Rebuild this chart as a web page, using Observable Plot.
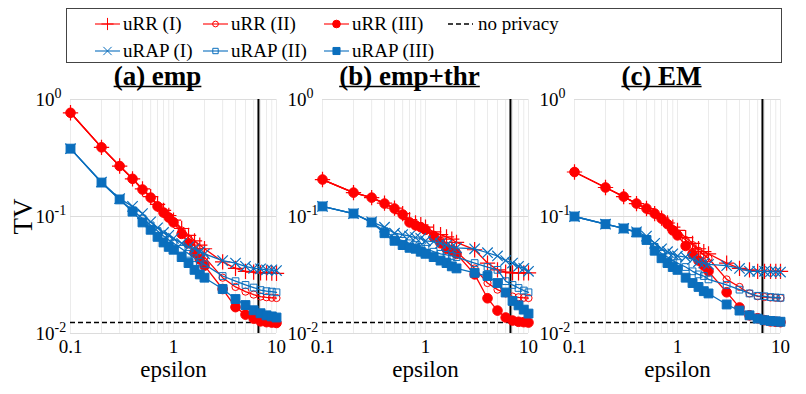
<!DOCTYPE html>
<html><head><meta charset="utf-8">
<script src="https://cdn.jsdelivr.net/npm/d3@7"></script>
<script src="https://cdn.jsdelivr.net/npm/@observablehq/plot@0.6"></script>
<style>
body{margin:0;background:#fff;}
#root{position:relative;width:806px;height:394px;font-family:"Liberation Serif","Times New Roman",serif;overflow:hidden;}
#root svg, #root text, #root tspan{font-family:"Liberation Serif","Times New Roman",serif !important;}
.panel{position:absolute;top:66px;}
.legend{position:absolute;top:0;left:0;}
</style></head><body><div id="root"></div>
<script>
// ---------- data ----------
const eps = [0.1,0.2,0.3,0.4,0.5,0.6,0.7,0.8,0.9,1.0,1.2,1.4,1.6,1.8,2,3,4,5,6,7,8,9,10];
const seriesNames = ["uRR (I)","uRR (II)","uRR (III)","uRAP (I)","uRAP (II)","uRAP (III)"];
const panelTitles = ["(a) emp","(b) emp+thr","(c) EM"];
const noPrivacyLabel = "no privacy";
const noPrivacyTV = 0.0124;
const refEpsilon = 6.68;
const xTicks = [0.1,1,10];
const xTickLabels = ["0.1","1","10"];
const xGrid = [0.1,0.2,0.3,0.4,0.5,0.6,0.7,0.8,0.9,1,2,3,4,5,6,7,8,9,10];
const yTicks = [1,0.1,0.01];
const yTickBase = "10";
const yTickExponents = ["0","-1","-2"];

// (a) emp
const empRR1   = [0.77,0.39,0.27,0.21,0.172,0.148,0.127,0.113,0.102,0.093,0.079,0.069,0.062,0.057,0.053,0.041,0.036,0.034,0.0335,0.033,0.033,0.0328,0.0327];
const empRR2   = [0.77,0.39,0.27,0.21,0.17,0.146,0.124,0.11,0.1,0.091,0.076,0.065,0.056,0.05,0.045,0.030,0.025,0.0228,0.0215,0.0207,0.0204,0.0202,0.0201];
const empRR3   = [0.77,0.39,0.27,0.21,0.17,0.145,0.122,0.108,0.098,0.089,0.071,0.059,0.049,0.043,0.038,0.024,0.0168,0.0145,0.0134,0.0127,0.0125,0.0124,0.0123];
const empRAP1  = [0.38,0.197,0.142,0.122,0.106,0.09,0.08,0.073,0.069,0.065,0.059,0.055,0.053,0.05,0.048,0.042,0.04,0.0375,0.036,0.0357,0.035,0.035,0.0345];
const empRAP2  = [0.38,0.195,0.14,0.113,0.096,0.084,0.075,0.068,0.063,0.059,0.053,0.048,0.044,0.041,0.039,0.031,0.028,0.026,0.0247,0.0235,0.023,0.0228,0.0225];
const empRAP3  = [0.38,0.195,0.14,0.11,0.089,0.077,0.067,0.06,0.055,0.052,0.045,0.04,0.035,0.032,0.03,0.024,0.0197,0.0175,0.0158,0.0149,0.0143,0.014,0.0137];
// (b) emp+thr
const thrRR1   = [0.207,0.16,0.145,0.13,0.118,0.106,0.094,0.088,0.085,0.081,0.074,0.07,0.067,0.064,0.06,0.052,0.040,0.035,0.0335,0.033,0.033,0.033,0.033];
const thrRR2   = [0.207,0.16,0.145,0.129,0.117,0.104,0.09,0.085,0.081,0.078,0.07,0.062,0.056,0.053,0.05,0.036,0.027,0.0237,0.022,0.0207,0.0204,0.0202,0.0201];
const thrRR3   = [0.207,0.16,0.145,0.129,0.117,0.104,0.089,0.084,0.081,0.077,0.067,0.059,0.053,0.051,0.048,0.032,0.020,0.0157,0.0137,0.0129,0.0126,0.0125,0.0124];
const thrRAP1  = [0.122,0.106,0.09,0.081,0.072,0.07,0.068,0.066,0.065,0.062,0.061,0.059,0.057,0.055,0.054,0.053,0.049,0.046,0.042,0.04,0.0375,0.036,0.034];
const thrRAP2  = [0.122,0.106,0.089,0.075,0.066,0.062,0.059,0.057,0.055,0.053,0.05,0.048,0.047,0.046,0.045,0.040,0.037,0.035,0.028,0.026,0.0245,0.0233,0.0225];
const thrRAP3  = [0.122,0.106,0.089,0.072,0.062,0.057,0.054,0.053,0.05,0.048,0.045,0.042,0.04,0.0375,0.036,0.033,0.031,0.027,0.0224,0.019,0.0174,0.016,0.0148];
// (c) EM
const emRR1    = [0.24,0.177,0.148,0.129,0.117,0.106,0.097,0.088,0.081,0.076,0.066,0.059,0.053,0.05,0.048,0.04,0.036,0.035,0.034,0.034,0.034,0.034,0.034];
const emRR2    = [0.24,0.177,0.148,0.129,0.117,0.106,0.096,0.087,0.078,0.072,0.063,0.057,0.051,0.047,0.044,0.029,0.025,0.022,0.0208,0.0205,0.0203,0.0202,0.0201];
const emRR3    = [0.24,0.177,0.148,0.129,0.117,0.106,0.096,0.086,0.076,0.069,0.056,0.048,0.042,0.038,0.034,0.0225,0.0167,0.0143,0.0135,0.013,0.0127,0.0126,0.0125];
const emRAP1   = [0.1,0.086,0.079,0.074,0.068,0.059,0.053,0.05,0.048,0.046,0.045,0.043,0.041,0.04,0.039,0.038,0.036,0.034,0.034,0.034,0.0338,0.0336,0.0335];
const emRAP2   = [0.1,0.086,0.079,0.073,0.064,0.055,0.048,0.045,0.042,0.04,0.037,0.034,0.032,0.031,0.029,0.026,0.0237,0.022,0.021,0.0208,0.0205,0.0203,0.0202];
const emRAP3   = [0.1,0.086,0.079,0.073,0.063,0.051,0.044,0.04,0.037,0.035,0.03,0.027,0.025,0.023,0.022,0.0177,0.0157,0.0143,0.0134,0.013,0.0128,0.0127,0.0126];

const panelData = [
  [empRR1,empRR2,empRR3,empRAP1,empRAP2,empRAP3],
  [thrRR1,thrRR2,thrRR3,thrRAP1,thrRAP2,thrRAP3],
  [emRR1,emRR2,emRR3,emRAP1,emRAP2,emRAP3]
];

// ---------- styles ----------
const RED = "#ff0000", BLUE = "#0a6ebd";
const style = [
  {color:RED,  symbol:"plus",   r:5.0, filled:false, sw:1.2},
  {color:RED,  symbol:"circle", r:3.6, filled:false, sw:1},
  {color:RED,  symbol:"circle", r:4.8, filled:true,  sw:1},
  {color:BLUE, symbol:"times",  r:4.8, filled:false, sw:1.2},
  {color:BLUE, symbol:"square", r:3.8, filled:false, sw:1},
  {color:BLUE, symbol:"square", r:5.0, filled:true,  sw:1}
];
const FONT = '"Liberation Serif","Times New Roman",serif';
const root = document.getElementById("root");

// ---------- legend ----------
(function legend(){
  const svg = d3.select(root).append("svg").attr("class","legend")
    .attr("width",806).attr("height",66);
  svg.append("rect").attr("x",66.5).attr("y",8.5).attr("width",715).attr("height",54)
    .attr("fill","white").attr("stroke","#444").attr("stroke-width",1);
  const colX = [95,203,324,448];
  const rowY = [24,51];
  const entries = [
    {k:0,col:0,row:0},{k:1,col:1,row:0},{k:2,col:2,row:0},{k:-1,col:3,row:0},
    {k:3,col:0,row:1},{k:4,col:1,row:1},{k:5,col:2,row:1}
  ];
  const symMap = {plus:d3.symbolPlus, times:d3.symbolTimes, circle:d3.symbolCircle, square:d3.symbolSquare};
  for (const e of entries) {
    const x0 = colX[e.col], y = rowY[e.row];
    const g = svg.append("g");
    if (e.k < 0) {
      g.append("line").attr("x1",x0).attr("x2",x0+25).attr("y1",y).attr("y2",y)
        .attr("stroke","#000").attr("stroke-width",1.5).attr("stroke-dasharray","5,3");
      g.append("text").attr("x",x0+30).attr("y",y).attr("dy","0.32em")
        .attr("font-size",19).text(noPrivacyLabel);
      continue;
    }
    const s = style[e.k];
    g.append("line").attr("x1",x0).attr("x2",x0+25).attr("y1",y).attr("y2",y)
      .attr("stroke",s.color).attr("stroke-opacity",0.55).attr("stroke-width",2);
    g.append("path").attr("transform",`translate(${x0+12.5},${y})`)
      .attr("d", d3.symbol(symMap[s.symbol], Math.PI*(s.r*0.8)*(s.r*0.8))())
      .attr("fill", s.filled ? s.color : "none")
      .attr("stroke", s.color).attr("stroke-width",1);
    g.append("text").attr("x",x0+28).attr("y",y).attr("dy","0.32em")
      .attr("font-size",19).text(seriesNames[e.k]);
  }
})();

// ---------- panels ----------
const lefts = [0,252,504];
panelData.forEach((series, i) => {
  const marks = [
    Plot.ruleX(xGrid, {stroke:"#ebebeb", strokeWidth:1}),
    Plot.ruleY(yTicks, {stroke:"#dcdcdc", strokeWidth:1}),
    Plot.ruleY([noPrivacyTV], {stroke:"#000", strokeWidth:1.5, strokeDasharray:"5,3"}),
    Plot.ruleX([refEpsilon], {stroke:"#000", strokeWidth:2})
  ];
  series.forEach((vals, k) => {
    const d = eps.map((e,j) => ({eps:e, tv:vals[j], name:seriesNames[k]}));
    const s = style[k];
    marks.push(Plot.line(d, {x:"eps", y:"tv", stroke:s.color, strokeWidth:1.3}));
    marks.push(Plot.dot(d, {x:"eps", y:"tv", symbol:s.symbol, r:s.r,
      fill: s.filled ? s.color : "none", stroke:s.color, strokeWidth:s.sw}));
  });
  marks.push(Plot.text([panelTitles[i]], {text:d=>d, frameAnchor:"top", lineAnchor:"top", dy:-34, dx:-16,
    fontSize:27, fontWeight:"bold", fill:"#000"}));

  const svg = Plot.plot({
    width: 302, height: 328,
    marginLeft: 70, marginRight: 26, marginTop: 33, marginBottom: 61,
    style: {background:"transparent", overflow:"visible", fontFamily:FONT, fontSize:"19px", color:"#000"},
    x: {type:"log", domain:[0.1,10], ticks:xTicks, tickFormat:(d)=>xTickLabels[xTicks.indexOf(d)],
        tickSize:0, tickPadding:6, label:"epsilon", labelAnchor:"center", labelOffset:43, labelArrow:false},
    y: {type:"log", domain:[0.01,1], ticks:yTicks, tickFormat:()=>yTickBase,
        tickSize:0, tickPadding:16, label: i===0 ? "TV" : null, labelAnchor:"center", labelOffset:58, labelArrow:false},
    marks
  });
  const wrap = document.createElement("div");
  wrap.className = "panel";
  wrap.style.left = lefts[i] + "px";
  wrap.appendChild(svg);
  root.appendChild(wrap);

  // axis label sizes
  svg.querySelectorAll('[aria-label="x-axis label"]').forEach(g=>{g.setAttribute("font-size","23"); g.querySelectorAll("text").forEach(t=>t.setAttribute("font-size","23"));});
  svg.querySelectorAll('[aria-label="y-axis label"]').forEach(g=>{g.setAttribute("font-size","27"); g.querySelectorAll("text").forEach(t=>t.setAttribute("font-size","27"));});

  // superscripts on y tick labels
  const yt = svg.querySelectorAll('[aria-label="y-axis tick label"] text');
  yt.forEach((t, j) => {
    const sup = t.cloneNode(false);
    sup.textContent = yTickExponents[j];
    sup.setAttribute("text-anchor","start");
    sup.setAttribute("font-size","14");
    sup.setAttribute("dy","-0.4em");
    t.parentNode.appendChild(sup);
  });

  // underline titles
  svg.querySelectorAll("text").forEach(t => {
    if (t.textContent === panelTitles[i]) {
      const b = t.getBBox();
      const ns = "http://www.w3.org/2000/svg";
      const ln = document.createElementNS(ns, "line");
      const m = t.getAttribute("transform");
      if (m) ln.setAttribute("transform", m);
      const yy = b.y + b.height*0.86;
      ln.setAttribute("x1", b.x); ln.setAttribute("x2", b.x + b.width);
      ln.setAttribute("y1", yy); ln.setAttribute("y2", yy);
      ln.setAttribute("stroke","#000"); ln.setAttribute("stroke-width","1.5");
      t.parentNode.appendChild(ln);
    }
  });
});
</script></body></html>
